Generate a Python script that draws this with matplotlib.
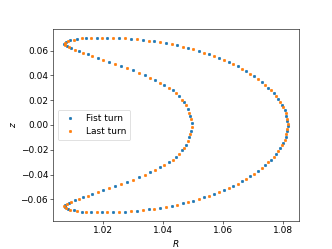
import matplotlib
matplotlib.use("Agg")
from matplotlib import pyplot as plt

plt.rcParams["font.size"] = 12.5

# first turn (blue), upper half then lower half
first_R = [
    1.0496, 1.0492, 1.0484, 1.0471, 1.0455, 1.0433, 1.0405, 1.0375, 1.0340, 1.0300,
    1.0262, 1.0222, 1.0183, 1.0150, 1.0120, 1.0096, 1.0080, 1.0072,
    1.0077, 1.0092, 1.0115, 1.0145, 1.0180, 1.0215, 1.0255, 1.0295, 1.0335, 1.0372,
    1.0410, 1.0448, 1.0483, 1.0520, 1.0553, 1.0587, 1.0620, 1.0650, 1.0678, 1.0705,
    1.0730, 1.0752, 1.0770, 1.0785, 1.0797, 1.0806, 1.0812, 1.0815,
    1.0495, 1.0489, 1.0478, 1.0464, 1.0445, 1.0420, 1.0390, 1.0358, 1.0320, 1.0282,
    1.0242, 1.0200, 1.0165, 1.0135, 1.0107, 1.0087, 1.0075, 1.0073,
    1.0084, 1.0103, 1.0130, 1.0162, 1.0198, 1.0235, 1.0275, 1.0315, 1.0353, 1.0391,
    1.0430, 1.0466, 1.0502, 1.0537, 1.0570, 1.0604, 1.0635, 1.0664, 1.0692, 1.0718,
    1.0741, 1.0761, 1.0778, 1.0791, 1.0802, 1.0809, 1.0814, 1.0816,
]
first_z = [
    0.0015, 0.0075, 0.0130, 0.0185, 0.0230, 0.0280, 0.0322, 0.0360, 0.0400, 0.0441,
    0.0475, 0.0508, 0.0540, 0.0570, 0.0595, 0.0618, 0.0636, 0.0652,
    0.0668, 0.0682, 0.0693, 0.0700, 0.0703, 0.0703, 0.0700, 0.0694, 0.0685, 0.0674,
    0.0660, 0.0642, 0.0622, 0.0597, 0.0570, 0.0540, 0.0508, 0.0473, 0.0435, 0.0392,
    0.0347, 0.0300, 0.0255, 0.0210, 0.0165, 0.0120, 0.0075, 0.0030,
    -0.0045, -0.0100, -0.0158, -0.0205, -0.0255, -0.0302, -0.0342, -0.0380, -0.0421, -0.0458,
    -0.0492, -0.0525, -0.0555, -0.0583, -0.0607, -0.0628, -0.0645, -0.0660,
    -0.0676, -0.0688, -0.0697, -0.0702, -0.0704, -0.0702, -0.0697, -0.0690, -0.0680, -0.0667,
    -0.0651, -0.0632, -0.0610, -0.0584, -0.0555, -0.0525, -0.0490, -0.0455, -0.0414, -0.0370,
    -0.0324, -0.0278, -0.0232, -0.0188, -0.0142, -0.0098, -0.0052, -0.0008,
]

# last turn (orange), upper half then lower half
last_R = [
    1.0495, 1.0489, 1.0478, 1.0464, 1.0445, 1.0420, 1.0390, 1.0358, 1.0320, 1.0282,
    1.0242, 1.0200, 1.0165, 1.0135, 1.0107, 1.0087, 1.0075, 1.0073,
    1.0084, 1.0103, 1.0130, 1.0162, 1.0198, 1.0235, 1.0275, 1.0315, 1.0353, 1.0391,
    1.0430, 1.0466, 1.0502, 1.0537, 1.0570, 1.0604, 1.0635, 1.0664, 1.0692, 1.0718,
    1.0741, 1.0761, 1.0778, 1.0791, 1.0802, 1.0809, 1.0814, 1.0816,
    1.0496, 1.0492, 1.0484, 1.0471, 1.0455, 1.0433, 1.0405, 1.0375, 1.0340, 1.0300,
    1.0262, 1.0222, 1.0183, 1.0150, 1.0120, 1.0096, 1.0080, 1.0072,
    1.0077, 1.0092, 1.0115, 1.0145, 1.0180, 1.0215, 1.0255, 1.0295, 1.0335, 1.0372,
    1.0410, 1.0448, 1.0483, 1.0520, 1.0553, 1.0587, 1.0620, 1.0650, 1.0678, 1.0705,
    1.0730, 1.0752, 1.0770, 1.0785, 1.0797, 1.0806, 1.0812, 1.0815,
]
last_z = [
    0.0045, 0.0100, 0.0158, 0.0205, 0.0255, 0.0302, 0.0342, 0.0380, 0.0421, 0.0458,
    0.0492, 0.0525, 0.0555, 0.0583, 0.0607, 0.0628, 0.0645, 0.0660,
    0.0676, 0.0688, 0.0697, 0.0702, 0.0704, 0.0702, 0.0697, 0.0690, 0.0680, 0.0667,
    0.0651, 0.0632, 0.0610, 0.0584, 0.0555, 0.0525, 0.0490, 0.0455, 0.0414, 0.0370,
    0.0324, 0.0278, 0.0232, 0.0188, 0.0142, 0.0098, 0.0052, 0.0008,
    -0.0015, -0.0075, -0.0130, -0.0185, -0.0230, -0.0280, -0.0322, -0.0360, -0.0400, -0.0441,
    -0.0475, -0.0508, -0.0540, -0.0570, -0.0595, -0.0618, -0.0636, -0.0652,
    -0.0668, -0.0682, -0.0693, -0.0700, -0.0703, -0.0703, -0.0700, -0.0694, -0.0685, -0.0674,
    -0.0660, -0.0642, -0.0622, -0.0597, -0.0570, -0.0540, -0.0508, -0.0473, -0.0435, -0.0392,
    -0.0347, -0.0300, -0.0255, -0.0210, -0.0165, -0.0120, -0.0075, -0.0030,
]

fig = plt.figure(figsize=(6.4, 4.8), dpi=51.875)
ax = fig.add_axes([0.16, 0.112, 0.74, 0.772])

ax.plot(first_R, first_z, ".", markersize=6.5, label="Fist turn")
ax.plot(last_R, last_z, ".", markersize=6.5, label="Last turn")

ax.set_xticks([1.02, 1.04, 1.06, 1.08])
ax.set_yticks([-0.06, -0.04, -0.02, 0.00, 0.02, 0.04, 0.06])
ax.set_xlabel("$R$")
ax.set_ylabel("$z$")
ax.legend(loc="center left")

fig.savefig("out.png", dpi=51.875)
